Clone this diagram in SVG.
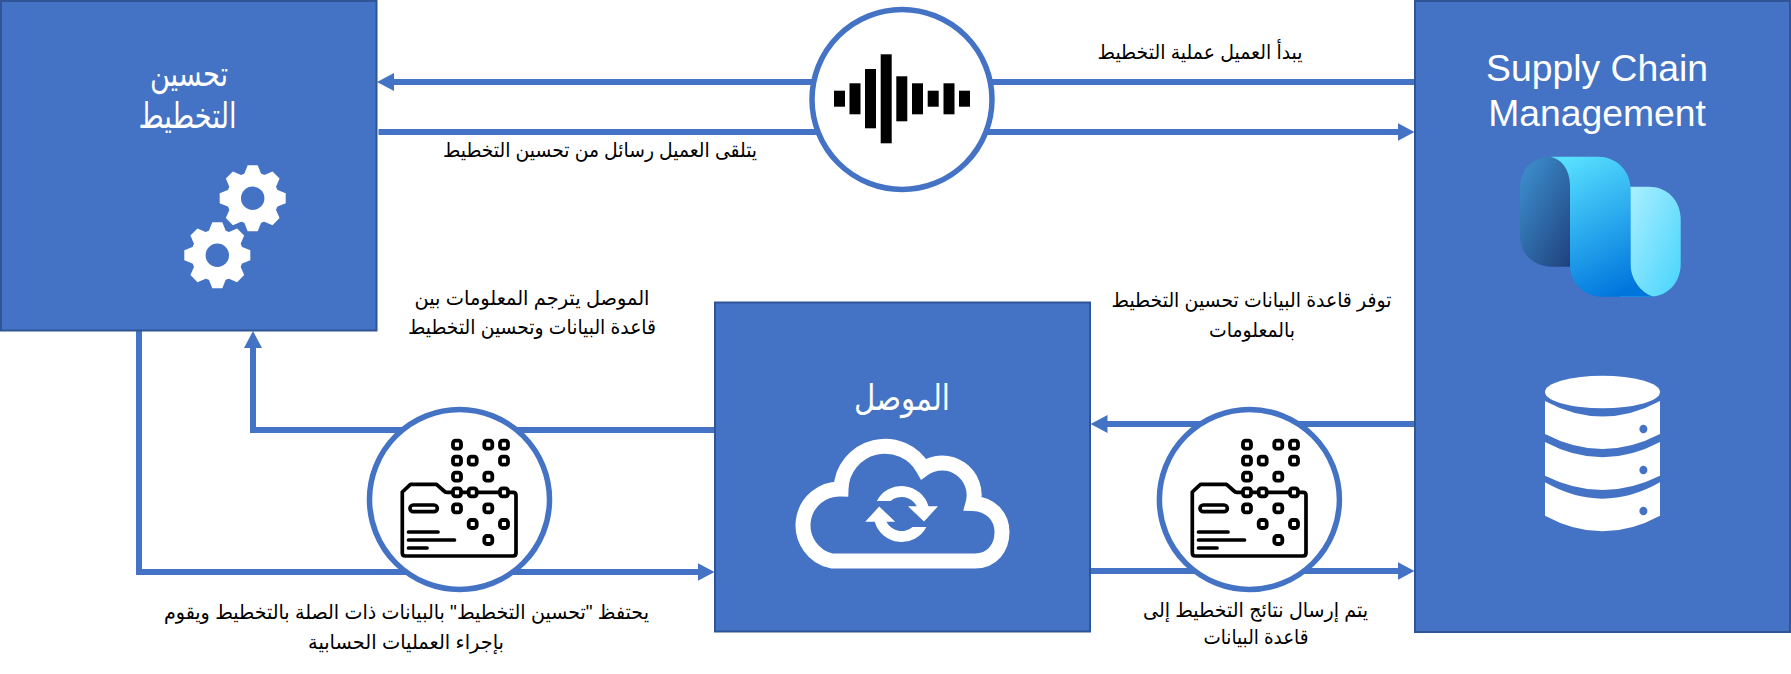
<svg xmlns="http://www.w3.org/2000/svg" xmlns:xlink="http://www.w3.org/1999/xlink" width="1791" height="674" viewBox="0 0 1791 674">
<style>
.box{fill:#4472c4;stroke:#2f5597;stroke-width:2}
.ln{fill:none;stroke:#4472c4;stroke-width:6}
.hub{fill:#fff;stroke:#4472c4;stroke-width:5.5}
.ar{font-family:"Liberation Sans","DejaVu Sans",sans-serif;direction:rtl;text-anchor:middle;font-size:20px;fill:#000}
.ttl{font-family:"Liberation Sans","DejaVu Sans",sans-serif;direction:rtl;text-anchor:middle;font-size:35px;fill:#fff}
.en{font-family:"Liberation Sans",Arial,sans-serif;text-anchor:middle;font-size:37.3px;fill:#fff}
.ic{fill:none;stroke:#000;stroke-width:3.7;stroke-linecap:round;stroke-linejoin:round}
.sq{fill:#fff;stroke:#000;stroke-width:3.8}
.w{fill:#fff}
.bar{fill:#000}
</style>
<defs>
<marker id="head" viewBox="0 0 17 18" refX="7" refY="9" markerWidth="17" markerHeight="18" markerUnits="userSpaceOnUse" orient="auto"><path d="M0,0L17,9L0,18Z" fill="#4472c4"/></marker>
<linearGradient id="g1" x1="0" y1="0" x2="1" y2="1"><stop offset="0" stop-color="#3f93d3"/><stop offset="1" stop-color="#1c3a75"/></linearGradient>
<linearGradient id="g2" x1="0.2" y1="0" x2="0.6" y2="1"><stop offset="0" stop-color="#58e0ff"/><stop offset="1" stop-color="#0076dd"/></linearGradient>
<linearGradient id="g3" x1="0" y1="0" x2="1" y2="0.8"><stop offset="0" stop-color="#b6f2ff"/><stop offset="1" stop-color="#50d6fd"/></linearGradient>
<g id="gear">
<circle r="26" class="w"/>
<polygon id="t" class="w" points="-9,-23 -5,-33 5,-33 9,-23"/>
<use href="#t" transform="rotate(45)"/><use href="#t" transform="rotate(90)"/><use href="#t" transform="rotate(135)"/><use href="#t" transform="rotate(180)"/><use href="#t" transform="rotate(225)"/><use href="#t" transform="rotate(270)"/><use href="#t" transform="rotate(315)"/>
<circle r="11.7" fill="#4472c4"/>
</g>
<g id="folder">
<path class="ic" d="M402.3,492L410.5,484.3H436.5L444,491Q445,492.3 447,492.3H513Q516,492.3 516,495.5V553Q516,556 513,556H405.3Q402.3,556 402.3,553Z"/>
<rect class="ic" x="410" y="505" width="27.3" height="6.7" rx="3.3"/>
<path class="ic" d="M408.5,532H438M408.5,540H454.5M408.5,548H427"/>
<g class="sq">
<rect x="453" y="440.7" width="8" height="8" rx="2.5"/><rect x="484.3" y="440.7" width="8" height="8" rx="2.5"/><rect x="500" y="440.7" width="8" height="8" rx="2.5"/>
<rect x="453" y="456.7" width="8" height="8" rx="2.5"/><rect x="468.7" y="456.7" width="8" height="8" rx="2.5"/><rect x="500" y="456.7" width="8" height="8" rx="2.5"/>
<rect x="453" y="472.7" width="8" height="8" rx="2.5"/><rect x="484.3" y="472.7" width="8" height="8" rx="2.5"/>
<rect x="453" y="488.3" width="8" height="8" rx="2.5"/><rect x="468.7" y="488.3" width="8" height="8" rx="2.5"/><rect x="500" y="488.3" width="8" height="8" rx="2.5"/>
<rect x="453" y="504.3" width="8" height="8" rx="2.5"/><rect x="484.3" y="504.3" width="8" height="8" rx="2.5"/>
<rect x="468.7" y="520" width="8" height="8" rx="2.5"/><rect x="500" y="520" width="8" height="8" rx="2.5"/>
<rect x="484.3" y="536" width="8" height="8" rx="2.5"/>
</g>
</g>
</defs>
<rect width="1791" height="674" fill="#fff"/>
<g id="connectors">
<path class="ln" d="M1415,82H387" marker-end="url(#head)"/>
<path class="ln" d="M378.5,132H1404.5" marker-end="url(#head)"/>
<path class="ln" d="M715,430H253V341" marker-end="url(#head)"/>
<path class="ln" d="M139,331V572H704.5" marker-end="url(#head)"/>
<path class="ln" d="M1415,424H1100.5" marker-end="url(#head)"/>
<path class="ln" d="M1091,571H1404.5" marker-end="url(#head)"/>
</g>
<g id="node-planning">
<rect class="box" x="1" y="1" width="375.5" height="329.5"/>
<text class="ttl" x="189" y="86" textLength="78" lengthAdjust="spacingAndGlyphs">تحسين</text>
<text class="ttl" x="187.5" y="128" textLength="98" lengthAdjust="spacingAndGlyphs">التخطيط</text>
<use href="#gear" x="252.7" y="198.3"/>
<use href="#gear" x="217.3" y="255.3"/>
</g>
<g id="node-scm">
<rect class="box" x="1415" y="1" width="375" height="631"/>
<text class="en" x="1597" y="81">Supply Chain</text>
<text class="en" x="1597" y="126">Management</text>
<path d="M1550,156.7C1532,156.7 1520,170 1520,188V236C1520,254 1534,266.7 1552,266.7H1580V180L1560,157Z" fill="url(#g1)"/>
<path d="M1630.7,186.7H1649C1667,186.7 1680.7,200 1680.7,220V264C1680.7,283 1667,296.7 1650,296.7H1620V186.7Z" fill="url(#g3)"/>
<path d="M1550,156.7H1598C1616,156.7 1630.7,170 1630.7,190V265C1630.7,282 1645,296 1655,296.7H1602C1584,296.7 1570,283 1570,265V186C1570,170 1562,159 1550,156.7Z" fill="url(#g2)"/>
<ellipse class="w" cx="1602.5" cy="392" rx="57.5" ry="16.3"/>
<path class="w" d="M1545,401Q1602.5,432 1660,401V434Q1602.5,464 1545,434Z"/>
<path class="w" d="M1545,442Q1602.5,472.6 1660,442V475.7Q1602.5,504.3 1545,475.7Z"/>
<path class="w" d="M1545,482.3Q1602.5,515 1660,482.3V515.7Q1602.5,547 1545,515.7Z"/>
<ellipse cx="1643.4" cy="429" rx="4" ry="4.3" fill="#4472c4"/>
<ellipse cx="1643.4" cy="470" rx="4" ry="4.3" fill="#4472c4"/>
<ellipse cx="1643.4" cy="511" rx="4" ry="4.3" fill="#4472c4"/>
</g>
<g id="node-connector">
<rect class="box" x="715" y="302.5" width="375" height="329"/>
<text class="ttl" x="902" y="410" textLength="96" lengthAdjust="spacingAndGlyphs">الموصل</text>
<path d="M832,561H975C992,561 1002,548 1002,532C1002,516 990,504 973,503.5A32,32 0 0 0 923.5,469A44,44 0 0 0 841,489A36.4,36.4 0 0 0 832,561Z" fill="none" stroke="#fff" stroke-width="15"/>
<path class="w" d="M876.8,501A28,28 0 0 1 928.5,506.3H938L924,521.5L908,506.3H916.8A17,17 0 0 0 890.6,501Z"/>
<path class="w" d="M876.8,501A28,28 0 0 1 928.5,506.3H938L924,521.5L908,506.3H916.8A17,17 0 0 0 890.6,501Z" transform="rotate(180 901.6 514)"/>
</g>
<g id="node-signal">
<circle class="hub" cx="902" cy="99.5" r="90"/>
<rect class="bar" x="834" y="90.7" width="11" height="16"/>
<rect class="bar" x="849.5" y="83.3" width="11" height="31"/>
<rect class="bar" x="865" y="69" width="11" height="59.3"/>
<rect class="bar" x="880.7" y="54.3" width="11" height="89"/>
<rect class="bar" x="896.3" y="76.3" width="11" height="45"/>
<rect class="bar" x="912" y="83.3" width="11" height="31"/>
<rect class="bar" x="927.7" y="90.7" width="11" height="16"/>
<rect class="bar" x="943.5" y="83.3" width="11" height="31"/>
<rect class="bar" x="959" y="90.7" width="11" height="16"/>
</g>
<g id="node-data-left">
<circle class="hub" cx="459.5" cy="499.5" r="90"/>
<use href="#folder"/>
</g>
<g id="node-data-right">
<circle class="hub" cx="1249.4" cy="499.5" r="90"/>
<use href="#folder" x="790"/>
</g>
<g id="labels">
<text class="ar" x="1200" y="59" textLength="205" lengthAdjust="spacingAndGlyphs">يبدأ العميل عملية التخطيط</text>
<text class="ar" x="600" y="157" textLength="314" lengthAdjust="spacingAndGlyphs">يتلقى العميل رسائل من تحسين التخطيط</text>
<text class="ar" x="532" y="305" textLength="235" lengthAdjust="spacingAndGlyphs">الموصل يترجم المعلومات بين</text>
<text class="ar" x="532" y="334" textLength="248" lengthAdjust="spacingAndGlyphs">قاعدة البيانات وتحسين التخطيط</text>
<text class="ar" x="1251.5" y="307" textLength="280" lengthAdjust="spacingAndGlyphs">توفر قاعدة البيانات تحسين التخطيط</text>
<text class="ar" x="1252" y="337" textLength="86" lengthAdjust="spacingAndGlyphs">بالمعلومات</text>
<text class="ar" x="406.5" y="619" textLength="485" lengthAdjust="spacingAndGlyphs">يحتفظ "تحسين التخطيط" بالبيانات ذات الصلة بالتخطيط ويقوم</text>
<text class="ar" x="406" y="649" textLength="196" lengthAdjust="spacingAndGlyphs">بإجراء العمليات الحسابية</text>
<text class="ar" x="1255.5" y="617" textLength="225" lengthAdjust="spacingAndGlyphs">يتم إرسال نتائج التخطيط إلى</text>
<text class="ar" x="1256" y="644" textLength="105" lengthAdjust="spacingAndGlyphs">قاعدة البيانات</text>
</g>
</svg>
